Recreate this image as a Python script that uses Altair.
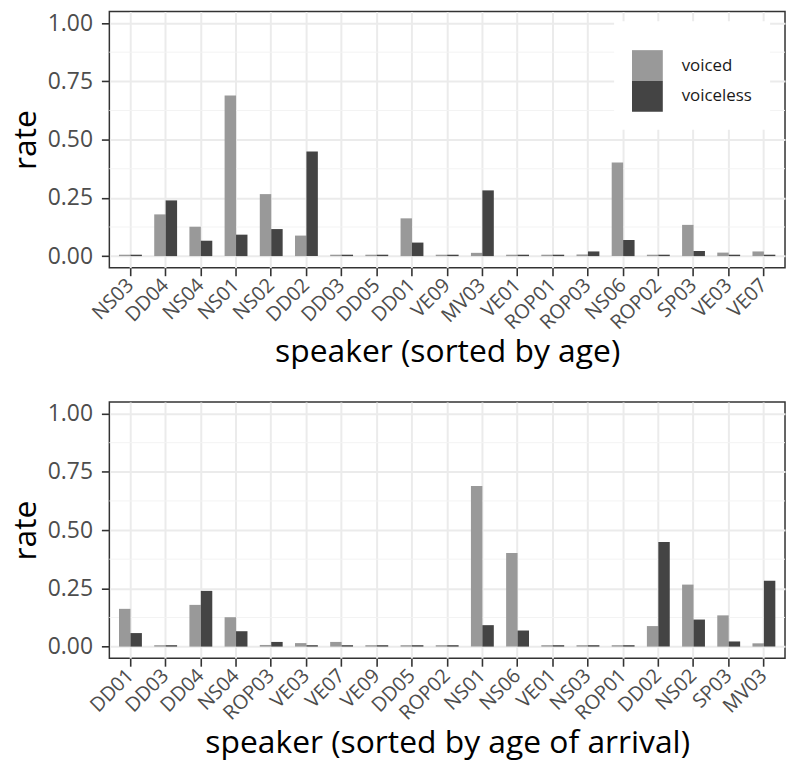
import altair as alt
import pandas as pd

# speakers in two orders
speakers_by_age = ["NS03", "DD04", "NS04", "NS01", "NS02", "DD02", "DD03", "DD05", "DD01", "VE09",
                   "MV03", "VE01", "ROP01", "ROP03", "NS06", "ROP02", "SP03", "VE03", "VE07"]
speakers_by_arrival = ["DD01", "DD03", "DD04", "NS04", "ROP03", "VE03", "VE07", "VE09", "DD05", "ROP02",
                       "NS01", "NS06", "VE01", "NS03", "ROP01", "DD02", "NS02", "SP03", "MV03"]

# rates (listed in the by-age order)
voiced_rate = [0.006, 0.179, 0.126, 0.689, 0.266, 0.088, 0.006, 0.006, 0.162, 0.006,
               0.014, 0.006, 0.006, 0.007, 0.402, 0.006, 0.134, 0.015, 0.020]
voiceless_rate = [0.006, 0.239, 0.066, 0.092, 0.116, 0.449, 0.006, 0.006, 0.058, 0.006,
                  0.282, 0.006, 0.006, 0.020, 0.069, 0.006, 0.022, 0.006, 0.006]

voicing_levels = ["voiced", "voiceless"]
voicing_colors = ["#999999", "#444444"]
y_major = [0, 0.25, 0.5, 0.75, 1.0]
y_minor = [0.125, 0.375, 0.625, 0.875]

rows = []
for s, v, vl in zip(speakers_by_age, voiced_rate, voiceless_rate):
    rows.append({"speaker": s, "voicing": "voiced", "rate": v})
    rows.append({"speaker": s, "voicing": "voiceless", "rate": vl})
df = pd.DataFrame(rows)
minor_df = pd.DataFrame({"rate": y_minor})

FONT = "Open Sans"
W, H = 680, 258


def panel(order, title, show_legend):
    yscale = alt.Scale(domain=[-0.05, 1.05], nice=False, zero=False)
    yaxis = alt.Axis(title="rate", values=y_major, format=".2f",
                     labelFontSize=23, labelColor="#4D4D4D", labelPadding=9,
                     tickSize=8, tickWidth=1.6, tickColor="#333333",
                     grid=True, gridColor="#EBEBEB", gridWidth=2,
                     domain=False, titleFontSize=32, titleFontWeight="normal",
                     titleColor="#000000", titlePadding=5, labelFont=FONT, titleFont=FONT)
    minor = alt.Chart(minor_df).mark_rule(color="#F3F3F3", strokeWidth=1).encode(
        y=alt.Y("rate:Q", scale=yscale, axis=yaxis)
    )
    legend = None
    if show_legend:
        legend = alt.Legend(
            title=" ", titleFontSize=9, titlePadding=2,
            orient="none", legendX=508, legendY=10,
            fillColor="white", padding=18,
            symbolType="square", symbolSize=961, symbolStrokeWidth=0, symbolOpacity=1,
            rowPadding=0, labelOffset=19, labelFontSize=17, labelColor="#1A1A1A",
            labelFont=FONT,
        )
    bars = alt.Chart(df).mark_bar(opacity=1).encode(
        x=alt.X("speaker:N", sort=order,
                scale=alt.Scale(paddingInner=0.35, paddingOuter=0.275),
                axis=alt.Axis(title=title, labelAngle=315, labelAlign="right", labelBaseline="middle",
                              labelFontSize=20, labelColor="#4D4D4D", labelPadding=6,
                              tickSize=8, tickWidth=1.6, tickColor="#333333",
                              grid=True, gridColor="#EBEBEB", gridWidth=2,
                              domain=False, titleFontSize=32, titleFontWeight="normal",
                              titleColor="#000000", titlePadding=4, labelFont=FONT, titleFont=FONT)),
        xOffset=alt.XOffset("voicing:N", sort=voicing_levels,
                            scale=alt.Scale(paddingInner=0, paddingOuter=0)),
        y=alt.Y("rate:Q", scale=yscale, axis=yaxis),
        color=alt.Color("voicing:N", sort=voicing_levels,
                        scale=alt.Scale(domain=voicing_levels, range=voicing_colors),
                        legend=legend),
    )
    return alt.layer(minor, bars).properties(width=W, height=H)


top = panel(speakers_by_age, "speaker (sorted by age)", True)
bottom = panel(speakers_by_arrival, "speaker (sorted by age of arrival)", False)

chart = alt.vconcat(top, bottom, spacing=32).resolve_scale(
    x="independent", color="independent"
).configure_view(
    stroke="#333333", strokeWidth=1.5
).properties(
    padding={"left": 0, "top": 0, "right": 0, "bottom": 0}
)

chart.save("out.html", embed_options={"renderer": "svg", "actions": False})
